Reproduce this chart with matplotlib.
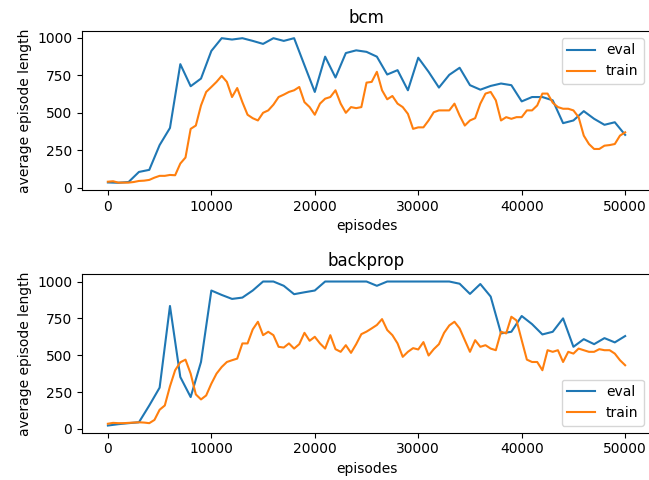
import numpy as np
import matplotlib
matplotlib.use("Agg")
import matplotlib.pyplot as plt

# eval runs every 1000 episodes, train average every 500
eval_episodes = np.arange(0, 50001, 1000)
train_episodes = np.arange(0, 50001, 500)

bcm_eval = [35, 33, 38, 105, 119, 284, 398, 823, 676, 727,
            911, 996, 987, 996, 978, 958, 996, 978, 996, 816,
            638, 873, 734, 897, 915, 905, 873, 754, 783, 649,
            866, 772, 667, 752, 799, 683, 653, 678, 694, 683,
            575, 604, 604, 582, 430, 448, 510, 459, 419, 436,
            352]

bcm_train = [40, 43, 34, 34, 34, 38, 45, 47, 52, 67,
             79, 79, 85, 83, 161, 201, 392, 414, 548, 638,
             671, 705, 745, 705, 604, 664, 570, 486, 463, 448,
             499, 515, 553, 604, 620, 638, 649, 671, 570, 537,
             486, 560, 593, 604, 649, 560, 499, 537, 530, 537,
             700, 705, 772, 649, 589, 611, 560, 537, 492, 392,
             402, 402, 448, 503, 515, 515, 515, 560, 481, 414,
             448, 463, 560, 627, 638, 582, 448, 470, 459, 470,
             470, 515, 515, 548, 627, 627, 566, 537, 526, 526,
             515, 470, 347, 291, 258, 258, 280, 284, 291, 347,
             369]

backprop_eval = [23, 32, 39, 45, 159, 280, 834, 352, 216, 454,
                 939, 909, 882, 891, 939, 1000, 1000, 971, 914, 927,
                 939, 1000, 1000, 1000, 1000, 1000, 971, 1000, 1000, 1000,
                 1000, 1000, 1000, 1000, 985, 916, 983, 898, 648, 659,
                 766, 711, 641, 659, 750, 557, 609, 575, 616, 587,
                 630]

backprop_train = [35, 41, 39, 39, 41, 43, 45, 43, 39, 61,
                  130, 159, 289, 398, 452, 470, 375, 234, 200, 227,
                  307, 375, 420, 454, 466, 477, 580, 580, 675, 727,
                  636, 659, 636, 557, 552, 580, 545, 575, 652, 598,
                  625, 580, 545, 636, 541, 523, 568, 516, 575, 643,
                  660, 682, 705, 745, 671, 636, 580, 489, 523, 548,
                  539, 589, 498, 541, 575, 652, 702, 727, 682, 602,
                  523, 602, 557, 568, 545, 534, 659, 648, 761, 736,
                  602, 470, 454, 454, 398, 534, 523, 534, 454, 523,
                  511, 545, 534, 523, 523, 541, 534, 534, 511, 466,
                  432]

runs = [("bcm", bcm_eval, bcm_train, "upper right"),
        ("backprop", backprop_eval, backprop_train, "lower right")]

fig, axs = plt.subplots(2, 1, figsize=(6.49, 4.8), dpi=100)
# the original figure was cropped on the right, axes run just past the edge
axs[0].set_position([0.1264, 0.6042, 0.8767, 0.3313])
axs[1].set_position([0.1264, 0.0985, 0.8767, 0.3300])

for ax, (name, ev, tr, loc) in zip(axs, runs):
    ax.plot(eval_episodes, ev, label="eval")
    ax.plot(train_episodes, tr, label="train")
    ax.set_title(name)
    ax.set_xlabel("episodes")
    ax.set_ylabel("average episode length")
    ax.set_yticks([0, 250, 500, 750, 1000])
    ax.spines["right"].set_visible(False)
    ax.legend(loc=loc)

fig.savefig("out.png", dpi=100)
